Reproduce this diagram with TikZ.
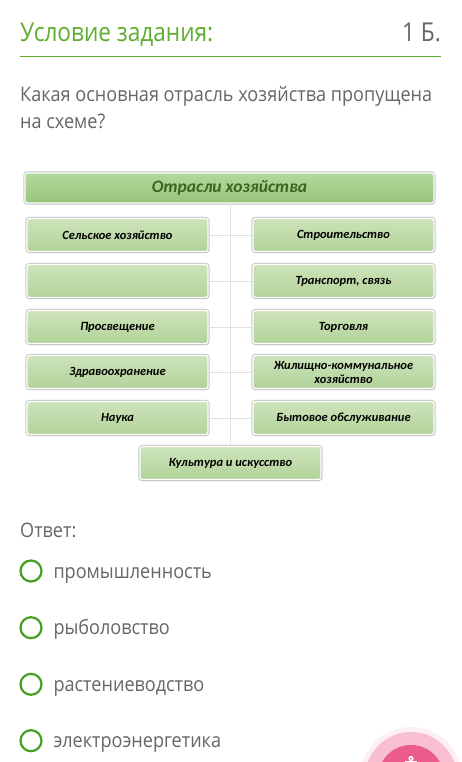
\documentclass[tikz,border=0pt]{standalone}
\usepackage{fontspec}
\usepackage{graphicx}
\setmainfont{Open Sans}
\newfontfamily\boxfont{Carlito}
\usetikzlibrary{shadows}
\definecolor{titlegreen}{HTML}{5FAE2E}
\definecolor{uigray}{HTML}{666666}
\definecolor{radiogreen}{HTML}{46A01F}
\definecolor{boxtop}{HTML}{CDE4BA}
\definecolor{boxbot}{HTML}{B2D299}
\definecolor{headtop}{HTML}{B4D89C}
\definecolor{headbot}{HTML}{97C57A}
\definecolor{headtext}{HTML}{3A6620}
\definecolor{pinkout}{HTML}{F7BFD1}
\definecolor{pinkin}{HTML}{EC5C8B}
\newlength\qlen
\settowidth\qlen{\fontsize{20}{24}\selectfont Какая основная отрасль хозяйства пропущена}
\pgfmathsetmacro\uifac{412/\qlen}
\newlength\tlen
\settowidth\tlen{\fontsize{26}{30}\selectfont Условие задания:}
\pgfmathsetmacro\titfac{193/\tlen}
\newcommand\uis[1]{\scalebox{\uifac}[1]{#1}}
\newcommand\tis[1]{\scalebox{\titfac}[1]{#1}}
\tikzset{
  uitext/.style={anchor=base west, inner sep=0pt, text=uigray, font=\fontsize{20}{24}\selectfont},
  branch/.style={draw=white, line width=1.3pt, rounded corners=2.5pt,
     top color=boxtop, bottom color=boxbot,
     preaction={draw=black!22, line width=3.2pt, rounded corners=2.5pt},
     drop shadow={opacity=0.18, shadow xshift=0.8pt, shadow yshift=-1.2pt},
     minimum width=181pt, minimum height=33pt, inner sep=1pt, align=center,
     font=\boxfont\bfseries\itshape\fontsize{12.5}{14}\selectfont, text=black},
  headbox/.style={branch, top color=headtop, bottom color=headbot,
     minimum width=409pt, minimum height=30pt, text=headtext,
     font=\boxfont\bfseries\itshape\fontsize{17.5}{20}\selectfont},
  link/.style={draw=black!12, line width=0.6pt},
  radio/.style={draw=radiogreen, line width=2.2pt, circle, minimum size=21pt, inner sep=0pt}
}
\begin{document}
\begin{tikzpicture}[x=1pt,y=-1pt]
\useasboundingbox (0,0) rectangle (461,762);
\fill[white] (0,0) rectangle (461,762);
% header
\node[anchor=base west, inner sep=0pt, text=titlegreen, font=\fontsize{26}{30}\selectfont] (title) at (20,41.7) {\tis{Условие задания:}};
\node[anchor=base east, inner sep=0pt, text=uigray, font=\fontsize{26}{30}\selectfont] (pts) at (441,41.7) {\tis{1 Б.}};
\coordinate (lineL) at (20,56.7);
\coordinate (lineR) at (441,56.7);
\draw[titlegreen, line width=1pt] (lineL) -- (lineR);
\node[uitext] (q1) at (20,101.7) {\uis{Какая основная отрасль хозяйства пропущена}};
\node[uitext] (q2) at (20,129) {\uis{на схеме?}};
% diagram
\node[headbox] (head) at (229.5,188) {Отрасли хозяйства};
\node[branch] (L1) at (117.5,235) {Сельское хозяйство};
\node[branch] (L2) at (117.5,281) {};
\node[branch] (L3) at (117.5,327) {Просвещение};
\node[branch] (L4) at (117.5,372) {Здравоохранение};
\node[branch] (L5) at (117.5,418) {Наука};
\node[branch] (R1) at (343.5,235) {Строительство};
\node[branch] (R2) at (343.5,281) {Транспорт, связь};
\node[branch] (R3) at (343.5,327) {Торговля};
\node[branch] (R4) at (343.5,372) {Жилищно-коммунальное\\хозяйство};
\node[branch] (R5) at (343.5,418) {Бытовое обслуживание};
\node[branch] (bot) at (230.5,463) {Культура и искусство};
\foreach \i in {1,...,5}{\draw[link] (L\i.east) -- (R\i.west);}
\draw[link] (head.south -| bot.north) -- (bot.north);
% answers
\node[uitext] (ans) at (20,537) {\uis{Ответ:}};
\node[radio] (r1) at (31,571) {};
\node[radio] (r2) at (31,627.7) {};
\node[radio] (r3) at (31,684.3) {};
\node[radio] (r4) at (31,740.7) {};
\node[uitext] (o1) at (53.3,578) {\uis{промышленность}};
\node[uitext] (o2) at (53.3,634.7) {\uis{рыболовство}};
\node[uitext] (o3) at (53.3,691.3) {\uis{растениеводство}};
\node[uitext] (o4) at (53.3,747.7) {\uis{электроэнергетика}};
% floating button
\fill[pinkout!25] (411,778) circle (51);
\fill[pinkout] (411,778) circle (46);
\fill[pinkin] (411,778) circle (33);
\fill[white] (411,758.5) circle (2.6);
\fill[pinkin] (411,758.5) circle (1);
\fill[white] (405,761) rectangle (417,762);
\end{tikzpicture}
\end{document}
